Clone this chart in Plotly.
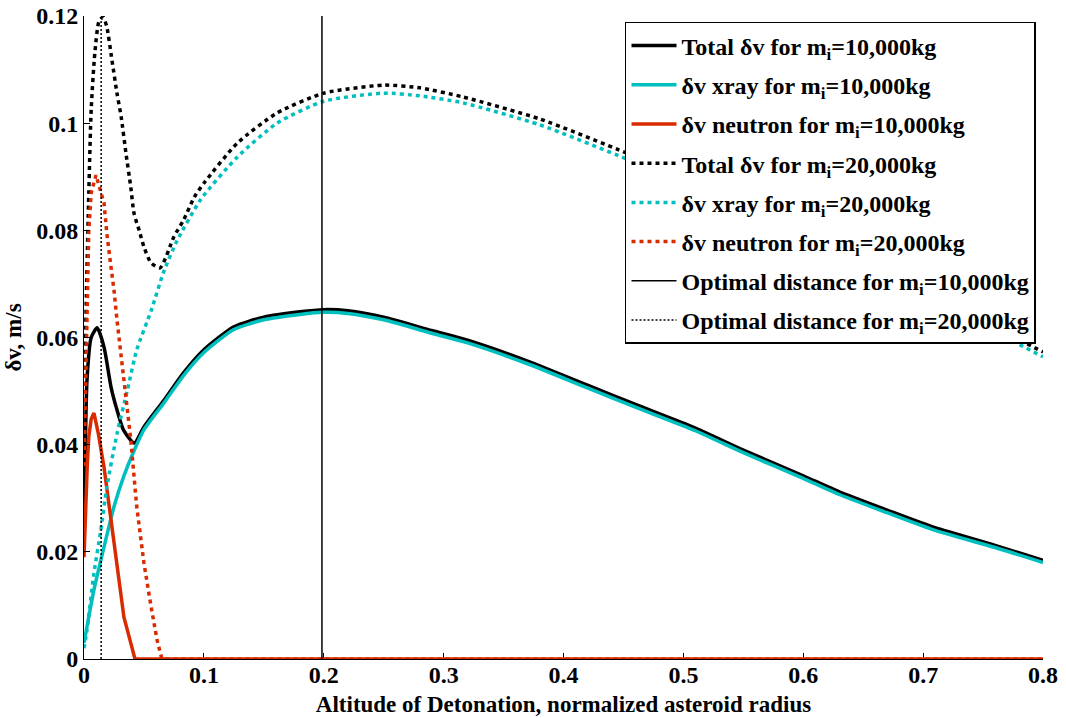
import plotly.graph_objects as go

# ---- data: delta-v versus detonation altitude ----
# 10,000 kg interceptor
x_total_10k = [0, 0.0025, 0.006, 0.011, 0.0167, 0.0225, 0.0275, 0.033, 0.042, 0.05,
               0.0667, 0.083, 0.1, 0.125, 0.15, 0.18, 0.2, 0.22, 0.25, 0.29, 0.32,
               0.37, 0.42, 0.46, 0.51, 0.55, 0.6, 0.63, 0.67, 0.71, 0.76, 0.8]
y_total_10k = [0.022, 0.052, 0.060, 0.0618, 0.0582, 0.0508, 0.0465, 0.0427, 0.0403, 0.0433,
               0.0483, 0.0534, 0.0577, 0.0620, 0.0638, 0.0648, 0.0652, 0.0650, 0.0638, 0.0613, 0.0595,
               0.0556, 0.0511, 0.0475, 0.0431, 0.0390, 0.0342, 0.0312, 0.0278, 0.0245, 0.0212, 0.0184]

x_xray_10k = [0, 0.0083, 0.0167, 0.025, 0.033, 0.042, 0.05, 0.0667, 0.083, 0.1, 0.125,
              0.15, 0.18, 0.2, 0.22, 0.25, 0.29, 0.32, 0.37, 0.42, 0.46, 0.51, 0.55,
              0.6, 0.63, 0.67, 0.71, 0.76, 0.8]
y_xray_10k = [0.003, 0.0129, 0.0209, 0.0284, 0.034, 0.039, 0.0428, 0.0478, 0.0529, 0.0572, 0.0615,
              0.0633, 0.0643, 0.0647, 0.0645, 0.0633, 0.0608, 0.0590, 0.0551, 0.0506, 0.0470, 0.0426, 0.0385,
              0.0337, 0.0307, 0.0273, 0.0240, 0.0208, 0.0180]

x_neut_10k = [0, 0.0015, 0.0028, 0.004, 0.006, 0.0083, 0.012, 0.0167, 0.0225, 0.0275, 0.0333,
              0.039, 0.0425, 0.8]
y_neut_10k = [0.019, 0.030, 0.0366, 0.0415, 0.0448, 0.0459, 0.042, 0.0358, 0.026, 0.0172, 0.0078,
              0.003, 0.0, 0.0]

# 20,000 kg interceptor
x_total_20k = [0, 0.002, 0.004, 0.006, 0.009, 0.0125, 0.016, 0.019, 0.0233, 0.0275, 0.031,
               0.035, 0.039, 0.0417, 0.046, 0.05, 0.056, 0.0635, 0.075, 0.083, 0.092, 0.1,
               0.128, 0.161, 0.2, 0.25, 0.28, 0.316, 0.38, 0.453, 0.5, 0.55, 0.6, 0.65,
               0.7, 0.75, 0.8]
y_total_20k = [0.045, 0.068, 0.087, 0.1025, 0.113, 0.119, 0.1198, 0.118, 0.1118, 0.1056, 0.1012,
               0.0944, 0.0881, 0.0832, 0.080, 0.0769, 0.0739, 0.073, 0.0788, 0.0819, 0.0862, 0.0888,
               0.0963, 0.1019, 0.1056, 0.1071, 0.1066, 0.1049, 0.1008, 0.0944, 0.0899, 0.0850, 0.0798, 0.0743,
               0.0687, 0.0630, 0.0573]

x_xray_20k = [0, 0.0025, 0.0083, 0.014, 0.019, 0.0275, 0.036, 0.044, 0.056, 0.0667, 0.0775,
              0.0975, 0.128, 0.161, 0.2, 0.25, 0.28, 0.316, 0.38, 0.453, 0.5, 0.55, 0.6,
              0.65, 0.7, 0.75, 0.8]
y_xray_20k = [0.002, 0.0054, 0.016, 0.024, 0.032, 0.042, 0.050, 0.0577, 0.065, 0.0724, 0.078,
              0.0858, 0.0937, 0.100, 0.1041, 0.1056, 0.1051, 0.1038, 0.0997, 0.0933, 0.0889, 0.0840, 0.0789,
              0.0735, 0.0680, 0.0622, 0.0564]

x_neut_20k = [0, 0.002, 0.004, 0.006, 0.010, 0.0167, 0.019, 0.0225, 0.025, 0.0275, 0.033,
              0.039, 0.044, 0.050, 0.056, 0.061, 0.065, 0.8]
y_neut_20k = [0.036, 0.060, 0.080, 0.087, 0.0903, 0.0851, 0.0795, 0.0732, 0.0689, 0.0633, 0.052,
              0.041, 0.0284, 0.0179, 0.0097, 0.0035, 0.0, 0.0]

# optimal detonation altitudes
x_opt_10k = [0.1985, 0.1985]
x_opt_20k = [0.0143, 0.0143]
y_opt = [0, 0.12]

x_ticks = [0, 0.1, 0.2, 0.3, 0.4, 0.5, 0.6, 0.7, 0.8]
y_ticks = [0, 0.02, 0.04, 0.06, 0.08, 0.1, 0.12]

BLACK = "#000000"
CYAN = "#00BFBF"
RED = "#DA2A00"
FONT = "Liberation Serif"

series = [
    (x_total_10k, y_total_10k, BLACK, "solid", 3.5, True, "Total δv for m<sub>i</sub>=10,000kg"),
    (x_xray_10k, y_xray_10k, CYAN, "solid", 3.5, True, "δv xray for m<sub>i</sub>=10,000kg"),
    (x_neut_10k, y_neut_10k, RED, "solid", 3.5, False, "δv neutron for m<sub>i</sub>=10,000kg"),
    (x_total_20k, y_total_20k, BLACK, "4px,4px", 3.5, True, "Total δv for m<sub>i</sub>=20,000kg"),
    (x_xray_20k, y_xray_20k, CYAN, "4px,4px", 3.5, True, "δv xray for m<sub>i</sub>=20,000kg"),
    (x_neut_20k, y_neut_20k, RED, "4px,4px", 3.5, False, "δv neutron for m<sub>i</sub>=20,000kg"),
    (x_opt_10k, y_opt, BLACK, "solid", 1.5, False, "Optimal distance for m<sub>i</sub>=10,000kg"),
    (x_opt_20k, y_opt, BLACK, "2px,2px", 1.5, False, "Optimal distance for m<sub>i</sub>=20,000kg"),
]

fig = go.Figure()
for i, (xs, ys, color, dash, width, smooth, name) in enumerate(series):
    line = dict(color=color, width=width, dash=dash)
    if smooth:
        line.update(shape="spline", smoothing=0.6)
    fig.add_trace(go.Scatter(
        x=xs, y=ys, mode="lines", name=name, legendgroup=f"g{i}", line=line,
    ))

fig.update_layout(
    width=1066, height=718,
    margin=dict(l=84, r=23, t=16, b=59, autoexpand=False),
    paper_bgcolor="white", plot_bgcolor="white",
    font=dict(family=FONT, size=24, color="black", weight="bold"),
    showlegend=True,
    legend=dict(
        x=0.9927, xanchor="right", y=0.9907, yanchor="top",
        bgcolor="white", bordercolor="black", borderwidth=1.5,
        font=dict(family=FONT, size=24, color="black", weight="bold"),
        tracegroupgap=5, traceorder="grouped", itemwidth=45,
    ),
    xaxis=dict(
        range=[0, 0.8], tickvals=x_ticks, ticks="inside", ticklen=6, tickcolor="black",
        showgrid=False, zeroline=False, showline=True, linecolor="black", linewidth=1,
        layer="below traces", automargin=False, ticklabelstandoff=-6,
        title=dict(text="Altitude of Detonation, normalized asteroid radius",
                   font=dict(family=FONT, size=23, weight="bold"), standoff=9),
        tickfont=dict(family=FONT, size=24, weight="bold"),
    ),
    yaxis=dict(
        range=[0, 0.12], tickvals=y_ticks, ticks="inside", ticklen=6, tickcolor="black",
        showgrid=False, zeroline=False, showline=True, linecolor="black", linewidth=1,
        automargin=False,
        title=dict(text="δv, m/s", font=dict(family=FONT, size=23, weight="bold"), standoff=8),
        tickfont=dict(family=FONT, size=24, weight="bold"),
    ),
)

fig.write_html("out.html")
